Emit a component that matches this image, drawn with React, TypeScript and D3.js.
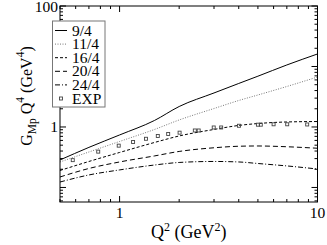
import React from 'react';
import * as d3 from 'd3';

// model curves, G_Mp Q^4 vs Q^2
const q2 = [0.5, 0.7, 1, 1.5, 2, 3, 4, 5, 7, 10];
const g94 = [0.285, 0.46, 0.738, 1.28, 2.18, 3.65, 5.24, 6.91, 10.6, 16.1];
const g114 = [0.264, 0.386, 0.576, 0.909, 1.306, 2.02, 2.74, 3.38, 4.67, 6.7];
const g164 = [0.191, 0.269, 0.379, 0.554, 0.71, 0.91, 1.06, 1.14, 1.21, 1.23];
const g204 = [0.149, 0.206, 0.264, 0.332, 0.394, 0.453, 0.48, 0.485, 0.471, 0.445];
const g244 = [0.123, 0.161, 0.195, 0.235, 0.259, 0.269, 0.264, 0.249, 0.227, 0.202];

// experimental points
const expQ2 = [0.58, 0.78, 0.99, 1.17, 1.36, 1.56, 1.76, 2.01, 2.4, 2.51, 2.99, 3.26, 4.01, 5.0, 5.17, 6.0, 7.03, 8.87];
const expG = [0.283, 0.391, 0.491, 0.565, 0.638, 0.71, 0.766, 0.805, 0.875, 0.875, 0.981, 0.981, 1.047, 1.091, 1.091, 1.108, 1.108, 1.1];

const seriesNames = ['9/4', '11/4', '16/4', '20/4', '24/4'];
const seriesVals = [g94, g114, g164, g204, g244];
const dashes = ['none', '1,1.5', '3,2', '5,3', '5,2,1,2'];
const strokes = ['#000', '#777', '#000', '#000', '#000'];

// "10" sits under the legend box in the original, so it is not drawn
const xTickLabels = [1, 10];
const yTickLabels = [1, 100];

const W = 327;
const H = 245;
const left = 60, right = 317.5, top = 6, bottom = 202;
const serif = '"Liberation Serif", "DejaVu Serif", serif';

export default function App() {
  const x = d3.scaleLog().domain([0.5, 10]).range([left, right]);
  const y = d3.scaleLog().domain([0.0575, 100]).range([bottom, top]);

  const line = d3
    .line<number>()
    .x((_, i) => x(q2[i]))
    .y((v) => y(v))
    .curve(d3.curveMonotoneX);

  const isMajor = (v: number) => Math.abs(Math.log10(v) - Math.round(Math.log10(v))) < 1e-6;
  const xt = x.ticks();
  const yt = y.ticks();

  return (
    <div style={{ position: 'fixed', left: 0, top: 0 }}>
      <svg width={W} height={H} style={{ display: 'block', background: '#fff' }}>
        <defs>
          <clipPath id="plot">
            <rect x={left} y={top} width={right - left} height={bottom - top} />
          </clipPath>
        </defs>

        {/* curves */}
        <g clipPath="url(#plot)" fill="none" strokeWidth={1}>
          {seriesVals.map((vals, i) => (
            <path key={i} d={line(vals) || ''} stroke={strokes[i]} strokeDasharray={dashes[i]} />
          ))}
          {expQ2.map((q, i) => (
            <rect key={i} x={x(q) - 1.5} y={y(expG[i]) - 1.5} width={3} height={3} stroke="#444" strokeWidth={0.9} fill="none" />
          ))}
        </g>

        {/* frame and ticks */}
        <g stroke="#000" strokeWidth={1}>
          <rect x={left} y={top} width={right - left} height={bottom - top} fill="none" />
          {xt.map((t, i) => {
            const len = isMajor(t) ? 6 : 3;
            return (
              <g key={i}>
                <line x1={x(t)} x2={x(t)} y1={bottom} y2={bottom - len} />
                <line x1={x(t)} x2={x(t)} y1={top} y2={top + len} />
              </g>
            );
          })}
          {yt.map((t, i) => {
            const len = isMajor(t) ? 6 : 3;
            return (
              <g key={i}>
                <line x1={left} x2={left + len} y1={y(t)} y2={y(t)} />
                <line x1={right} x2={right - len} y1={y(t)} y2={y(t)} />
              </g>
            );
          })}
        </g>

        {/* tick labels */}
        <g fontFamily={serif} fontSize={15.5} fill="#000">
          {xTickLabels.map((t) => (
            <text key={t} x={x(t)} y={bottom + 16} textAnchor="middle">{t}</text>
          ))}
          {yTickLabels.map((t) => (
            <text key={t} x={left - 2} y={y(t) + 5.5} textAnchor="end">{t}</text>
          ))}
        </g>

        {/* axis titles */}
        <text x={(left + right) / 2} y={238} textAnchor="middle" fontFamily={serif} fontSize={18}>
          Q<tspan dy={-7} fontSize={12}>2</tspan>
          <tspan dy={7}> (GeV</tspan>
          <tspan dy={-7} fontSize={12}>2</tspan>
          <tspan dy={7}>)</tspan>
        </text>
        <text transform="translate(32,96) rotate(-90)" textAnchor="middle" fontFamily={serif} fontSize={16}>
          G<tspan dy={4} fontSize={11.5}>Mp</tspan>
          <tspan dy={-4}> Q</tspan>
          <tspan dy={-8} fontSize={11.5}>4</tspan>
          <tspan dy={8}> (GeV</tspan>
          <tspan dy={-8} fontSize={11.5}>4</tspan>
          <tspan dy={8}>)</tspan>
        </text>

        {/* legend */}
        <g>
          <rect x={52.5} y={21} width={52.5} height={86} fill="#fff" stroke="#777" strokeWidth={1} />
          {seriesNames.map((n, i) => {
            const cy = 30.5 + i * 13.6;
            return (
              <g key={n}>
                <line x1={55} x2={67} y1={cy} y2={cy} stroke={strokes[i]} strokeDasharray={dashes[i]} />
                <text x={72} y={cy + 5} fontFamily={serif} fontSize={15.5}>{n}</text>
              </g>
            );
          })}
          <rect x={59.5} y={30.5 + 5 * 13.6 - 1.5} width={3} height={3} stroke="#444" strokeWidth={0.9} fill="none" />
          <text x={72} y={30.5 + 5 * 13.6 + 5} fontFamily={serif} fontSize={15.5}>EXP</text>
        </g>
      </svg>
    </div>
  );
}
